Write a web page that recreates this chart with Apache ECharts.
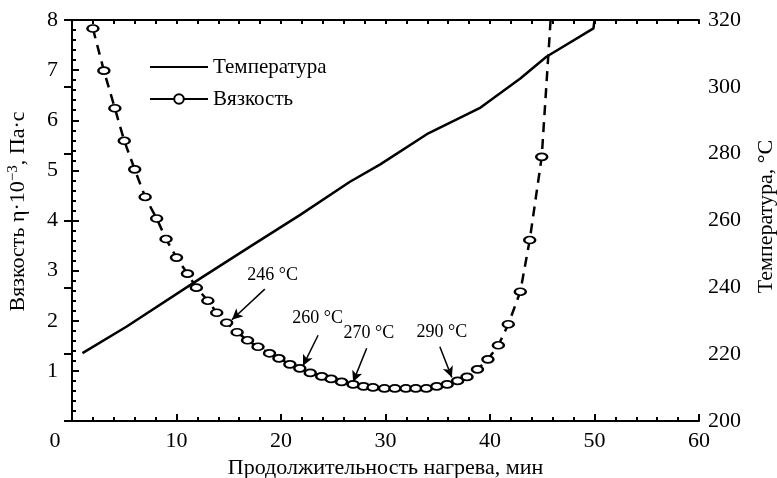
<!DOCTYPE html>
<head>
    <meta charset="UTF-8">
    <title>Вязкость и температура</title>
    <script src="https://cdn.jsdelivr.net/npm/echarts@6/dist/echarts.min.js"></script>
</head>
<body style="margin:0">
<div id="chart" style="width:777px;height:478px;"></div>
<script type="text/javascript">

    // время нагрева, мин -> вязкость, Па·с (x10^-3)
    var viscTime = [2.0, 3.05, 4.1, 5.0, 6.0, 7.0, 8.1, 9.0, 10.0, 11.05, 11.9, 13.0, 13.85, 14.8, 15.8, 16.8,
        17.8, 18.9, 19.8, 20.85, 21.8, 22.8, 23.9, 24.8, 25.8, 26.9, 27.9, 28.8, 29.9, 30.9, 31.95, 32.9,
        33.9, 34.9, 35.9, 36.9, 37.8, 38.8, 39.8, 40.8, 41.75, 42.9, 43.8, 44.95];
    var viscValue = [7.83, 6.99, 6.24, 5.59, 5.02, 4.47, 4.04, 3.63, 3.26, 2.94, 2.66, 2.40, 2.16, 1.96, 1.77, 1.61,
        1.48, 1.35, 1.25, 1.13, 1.05, 0.96, 0.89, 0.84, 0.78, 0.73, 0.69, 0.67, 0.65, 0.65, 0.65, 0.65,
        0.65, 0.69, 0.73, 0.80, 0.88, 1.03, 1.23, 1.51, 1.93, 2.58, 3.61, 5.27];
    // хвост пунктира без маркера
    var viscTail = [45.8, 8];

    // температура, °C
    var tempTime = [1.0, 5.2, 12.25, 17.0, 21.8, 26.6, 29.5, 34.1, 39.0, 42.9, 45.4, 49.9, 50.0];
    var tempValue = [220.3, 228.2, 242.6, 252.1, 261.6, 271.6, 276.8, 286.1, 293.6, 302.5, 309.0, 317.5, 320.0];

    // подписи со стрелками (в координатах осей)
    var annoText = ['246 °C', '260 °C', '270 °C', '290 °C'];
    var annoTextAt = [[19.2, 2.91], [23.5, 2.05], [28.4, 1.75], [35.4, 1.78]];
    var annoFrom = [[18.45, 2.63], [23.55, 1.71], [28.2, 1.45], [35.2, 1.48]];
    var annoTo = [[15.3, 2.02], [22.1, 1.1], [26.9, 0.78], [36.35, 0.87]];

    var xTicks = [0, 10, 20, 30, 40, 50, 60];

    var font = 'Liberation Serif';
    var black = '#000';

    var viscData = viscTime.map(function (t, i) {
        return [t, viscValue[i]];
    });
    viscData.push({value: viscTail, symbol: 'none'});

    var tempData = tempTime.map(function (t, i) {
        return [t, tempValue[i]];
    });

    var myChart = echarts.init(document.getElementById('chart'));

    var axisCommon = {
        axisLine: {show: true, lineStyle: {color: black, width: 2}},
        splitLine: {show: false}
    };

    myChart.setOption({
        animation: false,
        backgroundColor: '#fff',
        grid: {left: 72, right: 78, top: 20, bottom: 57, containLabel: false, outerBoundsMode: 'none'},
        legend: {
            orient: 'vertical',
            left: 144,
            top: 51,
            itemWidth: 58,
            itemHeight: 12,
            itemGap: 10,
            data: [
                {name: 'Температура', itemStyle: {opacity: 0}},
                {name: 'Вязкость'}
            ],
            lineStyle: {type: 'solid', width: 2},
            textStyle: {fontFamily: font, fontSize: 21, color: black, lineHeight: 22}
        },
        xAxis: [
            Object.assign({}, axisCommon, {
                type: 'value', min: xTicks[0], max: xTicks[xTicks.length - 1], interval: 10,
                position: 'bottom',
                axisTick: {inside: true, length: 7, lineStyle: {color: black, width: 2}},
                minorTick: {show: true, splitNumber: 5, length: 4, lineStyle: {color: black, width: 2}},
                axisLabel: {
                    fontFamily: font, fontSize: 22, color: black, margin: 9,
                    formatter: function (v) {
                        return v === 0 ? '{z|0}' : v;
                    },
                    rich: {z: {fontFamily: font, fontSize: 22, color: black, padding: [0, 34, 0, 0]}}
                },
                name: 'Продолжительность нагрева, мин',
                nameLocation: 'middle',
                nameGap: 31,
                nameTextStyle: {fontFamily: font, fontSize: 22, color: black}
            }),
            Object.assign({}, axisCommon, {
                type: 'value', min: 0, max: 60, interval: 2,
                position: 'top',
                axisTick: {inside: true, length: 4, lineStyle: {color: black, width: 2}},
                axisLabel: {show: false}
            })
        ],
        yAxis: [
            Object.assign({}, axisCommon, {
                type: 'value', min: 0, max: 8, interval: 1,
                position: 'left',
                axisTick: {inside: true, length: 7, lineStyle: {color: black, width: 2}},
                minorTick: {show: true, splitNumber: 5, length: 4, lineStyle: {color: black, width: 2}},
                axisLabel: {
                    fontFamily: font, fontSize: 22, color: black, margin: 14,
                    formatter: function (v) {
                        return v === 0 ? '' : v;
                    }
                },
                name: '{a|Вязкость η·10}{s|−3}{a|, Па·с}',
                nameLocation: 'middle',
                nameGap: 42,
                nameRotate: 90,
                nameTextStyle: {
                    padding: [0, 0, 0, 18],
                    rich: {
                        a: {fontFamily: font, fontSize: 22, color: black, lineHeight: 24},
                        s: {fontFamily: font, fontSize: 15, color: black, lineHeight: 24, verticalAlign: 'top', padding: [0, 0, 9, 0]}
                    }
                }
            }),
            Object.assign({}, axisCommon, {
                type: 'value', min: 200, max: 320, interval: 20,
                position: 'right',
                axisTick: {inside: true, length: 8, lineStyle: {color: black, width: 2}},
                axisLabel: {fontFamily: font, fontSize: 22, color: black, margin: 9},
                name: 'Температура, °C',
                nameLocation: 'middle',
                nameGap: 56,
                nameRotate: 90,
                nameTextStyle: {fontFamily: font, fontSize: 22, color: black, padding: [0, 0, 0, 8]}
            })
        ],
        series: [
            {
                name: 'Температура',
                type: 'line',
                xAxisIndex: 0,
                yAxisIndex: 1,
                showSymbol: false,
                symbol: 'none',
                color: black,
                lineStyle: {color: black, width: 2.5},
                data: tempData
            },
            {
                name: 'Вязкость',
                type: 'line',
                xAxisIndex: 0,
                yAxisIndex: 0,
                symbol: 'circle',
                symbolSize: [11, 7],
                color: black,
                itemStyle: {color: '#fff', borderColor: black, borderWidth: 2},
                lineStyle: {color: black, width: 2.5, type: [10, 7]},
                z: 3,
                data: viscData,
                markLine: {
                    silent: true,
                    symbol: ['none', 'arrow'],
                    symbolSize: [8, 11],
                    lineStyle: {color: black, type: 'solid', width: 1.5},
                    label: {show: false},
                    data: annoFrom.map(function (p, i) {
                        return [{coord: p}, {coord: annoTo[i]}];
                    })
                },
                markPoint: {
                    silent: true,
                    symbol: 'circle',
                    symbolSize: 1,
                    itemStyle: {color: 'rgba(0,0,0,0)'},
                    label: {
                        show: true, position: 'inside', formatter: '{b}',
                        fontFamily: font, fontSize: 18, color: black
                    },
                    data: annoText.map(function (t, i) {
                        return {name: t, coord: annoTextAt[i]};
                    })
                }
            }
        ]
    });
</script>
</body>
</html>
